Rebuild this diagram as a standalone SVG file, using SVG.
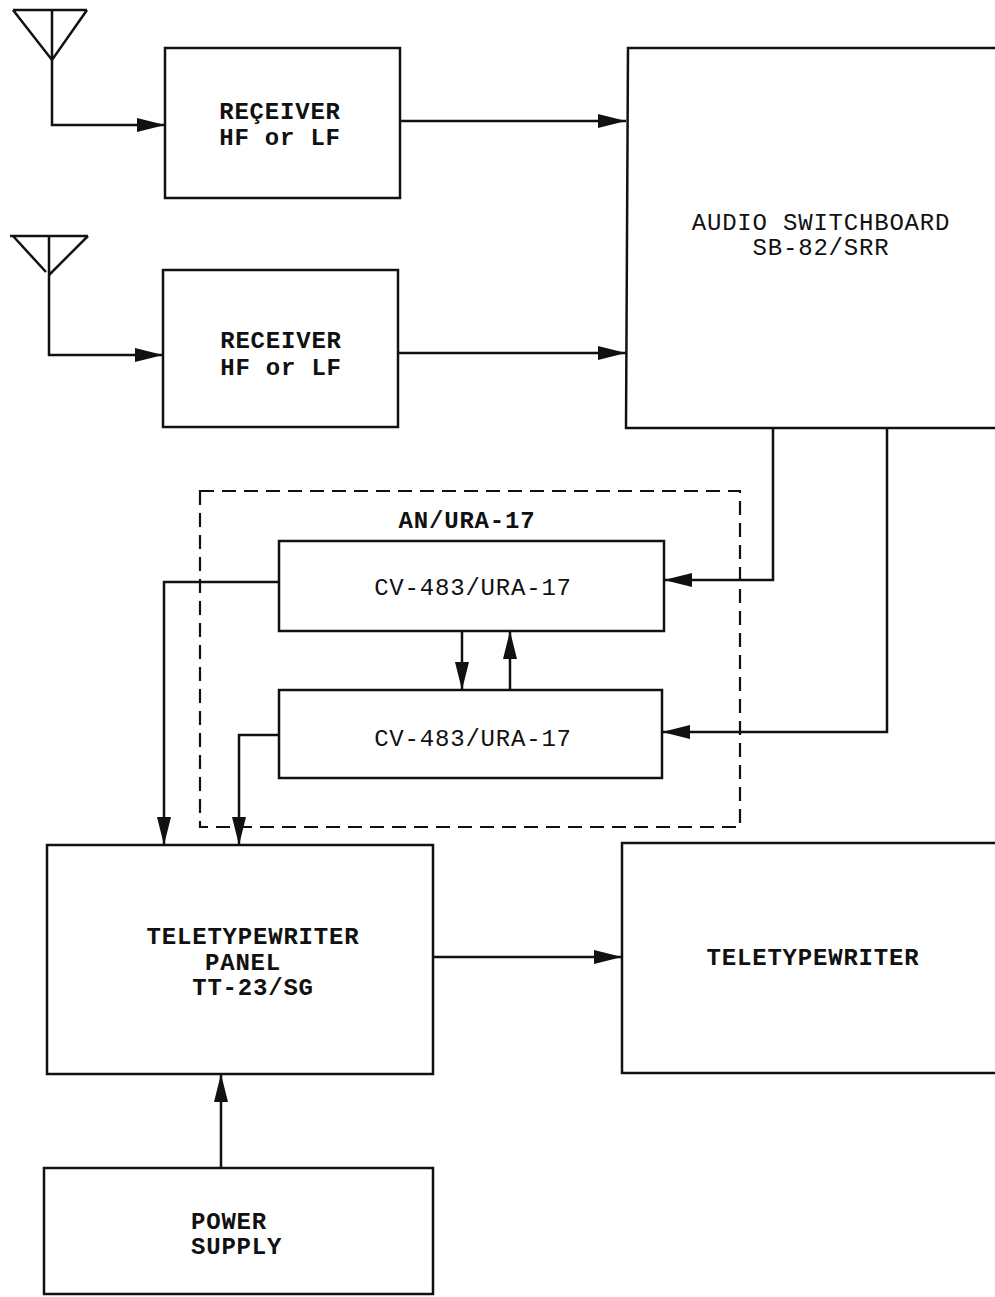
<svg xmlns="http://www.w3.org/2000/svg" width="995" height="1297" viewBox="0 0 995 1297">
<defs>
<style>
.box{fill:none;stroke:#111;stroke-width:2.5}
.dash{fill:none;stroke:#111;stroke-width:2.2;stroke-dasharray:14 8}
.wire{fill:none;stroke:#111;stroke-width:2.5;marker-end:url(#ah)}
.ant{fill:none;stroke:#111;stroke-width:2.5}
.t{font-family:"Liberation Mono","DejaVu Sans Mono",monospace;font-size:24px;letter-spacing:0.8px;fill:#111;text-anchor:middle}
.b{font-weight:bold}
</style>
<marker id="ah" markerUnits="userSpaceOnUse" markerWidth="30" markerHeight="16" refX="28" refY="7" orient="auto">
<path d="M0,0 L28,7 L0,14 Z" fill="#111"/>
</marker>
</defs>
<rect width="995" height="1297" fill="#fff"/>

<g id="antenna1">
<path class="ant" d="M13,10 H87 M13,10 L52,60 L87,10 M52,10 V60"/>
</g>
<g id="antenna2">
<path class="ant" d="M10,236 H88 M13,236 L46,272 M88,236 L49,275 M49,236 V275"/>
</g>

<g id="receiver1">
<rect class="box" x="165" y="48" width="235" height="150"/>
<text class="t b" x="280" y="119">REÇEIVER</text>
<text class="t b" x="280" y="145">HF or LF</text>
</g>
<g id="receiver2">
<rect class="box" x="163" y="270" width="235" height="157"/>
<text class="t b" x="281" y="348">RECEIVER</text>
<text class="t b" x="281" y="375">HF or LF</text>
</g>

<g id="switchboard">
<path class="box" d="M1000,48 H628 L626,428 H1000"/>
<text class="t" x="821" y="230">AUDIO SWITCHBOARD</text>
<text class="t" x="821" y="255">SB-82/SRR</text>
</g>

<g id="ura17">
<rect class="dash" x="200" y="491" width="540" height="336"/>
<text class="t b" x="467" y="528">AN/URA-17</text>
</g>
<g id="cv1">
<rect class="box" x="279" y="541" width="385" height="90"/>
<text class="t" x="473" y="595">CV-483/URA-17</text>
</g>
<g id="cv2">
<rect class="box" x="279" y="690" width="383" height="88"/>
<text class="t" x="473" y="746">CV-483/URA-17</text>
</g>

<g id="panel">
<rect class="box" x="47" y="845" width="386" height="229"/>
<text class="t b" x="253" y="944">TELETYPEWRITER</text>
<text class="t b" x="243" y="970">PANEL</text>
<text class="t b" x="253" y="995">TT-23/SG</text>
</g>
<g id="teletypewriter">
<path class="box" d="M1000,843 H622 V1073 H1000"/>
<text class="t b" x="813" y="965">TELETYPEWRITER</text>
</g>
<g id="power">
<rect class="box" x="44" y="1168" width="389" height="126"/>
<text class="t b" x="191" y="1229" style="text-anchor:start">POWER</text>
<text class="t b" x="191" y="1254" style="text-anchor:start">SUPPLY</text>
</g>

<g id="connectors">
<path class="wire" d="M52,60 V125 H165"/>
<path class="wire" d="M49,275 V355 H163"/>
<path class="wire" d="M400,121 H626"/>
<path class="wire" d="M398,353 H626"/>
<path class="wire" d="M773,428 V580 H664"/>
<path class="wire" d="M887,428 V732 H662"/>
<path class="wire" d="M462,631 V690"/>
<path class="wire" d="M510,690 V631"/>
<path class="wire" d="M279,582 H164 V845"/>
<path class="wire" d="M279,735 H239 V845"/>
<path class="wire" d="M433,957 H622"/>
<path class="wire" d="M221,1168 V1074"/>
</g>
</svg>
